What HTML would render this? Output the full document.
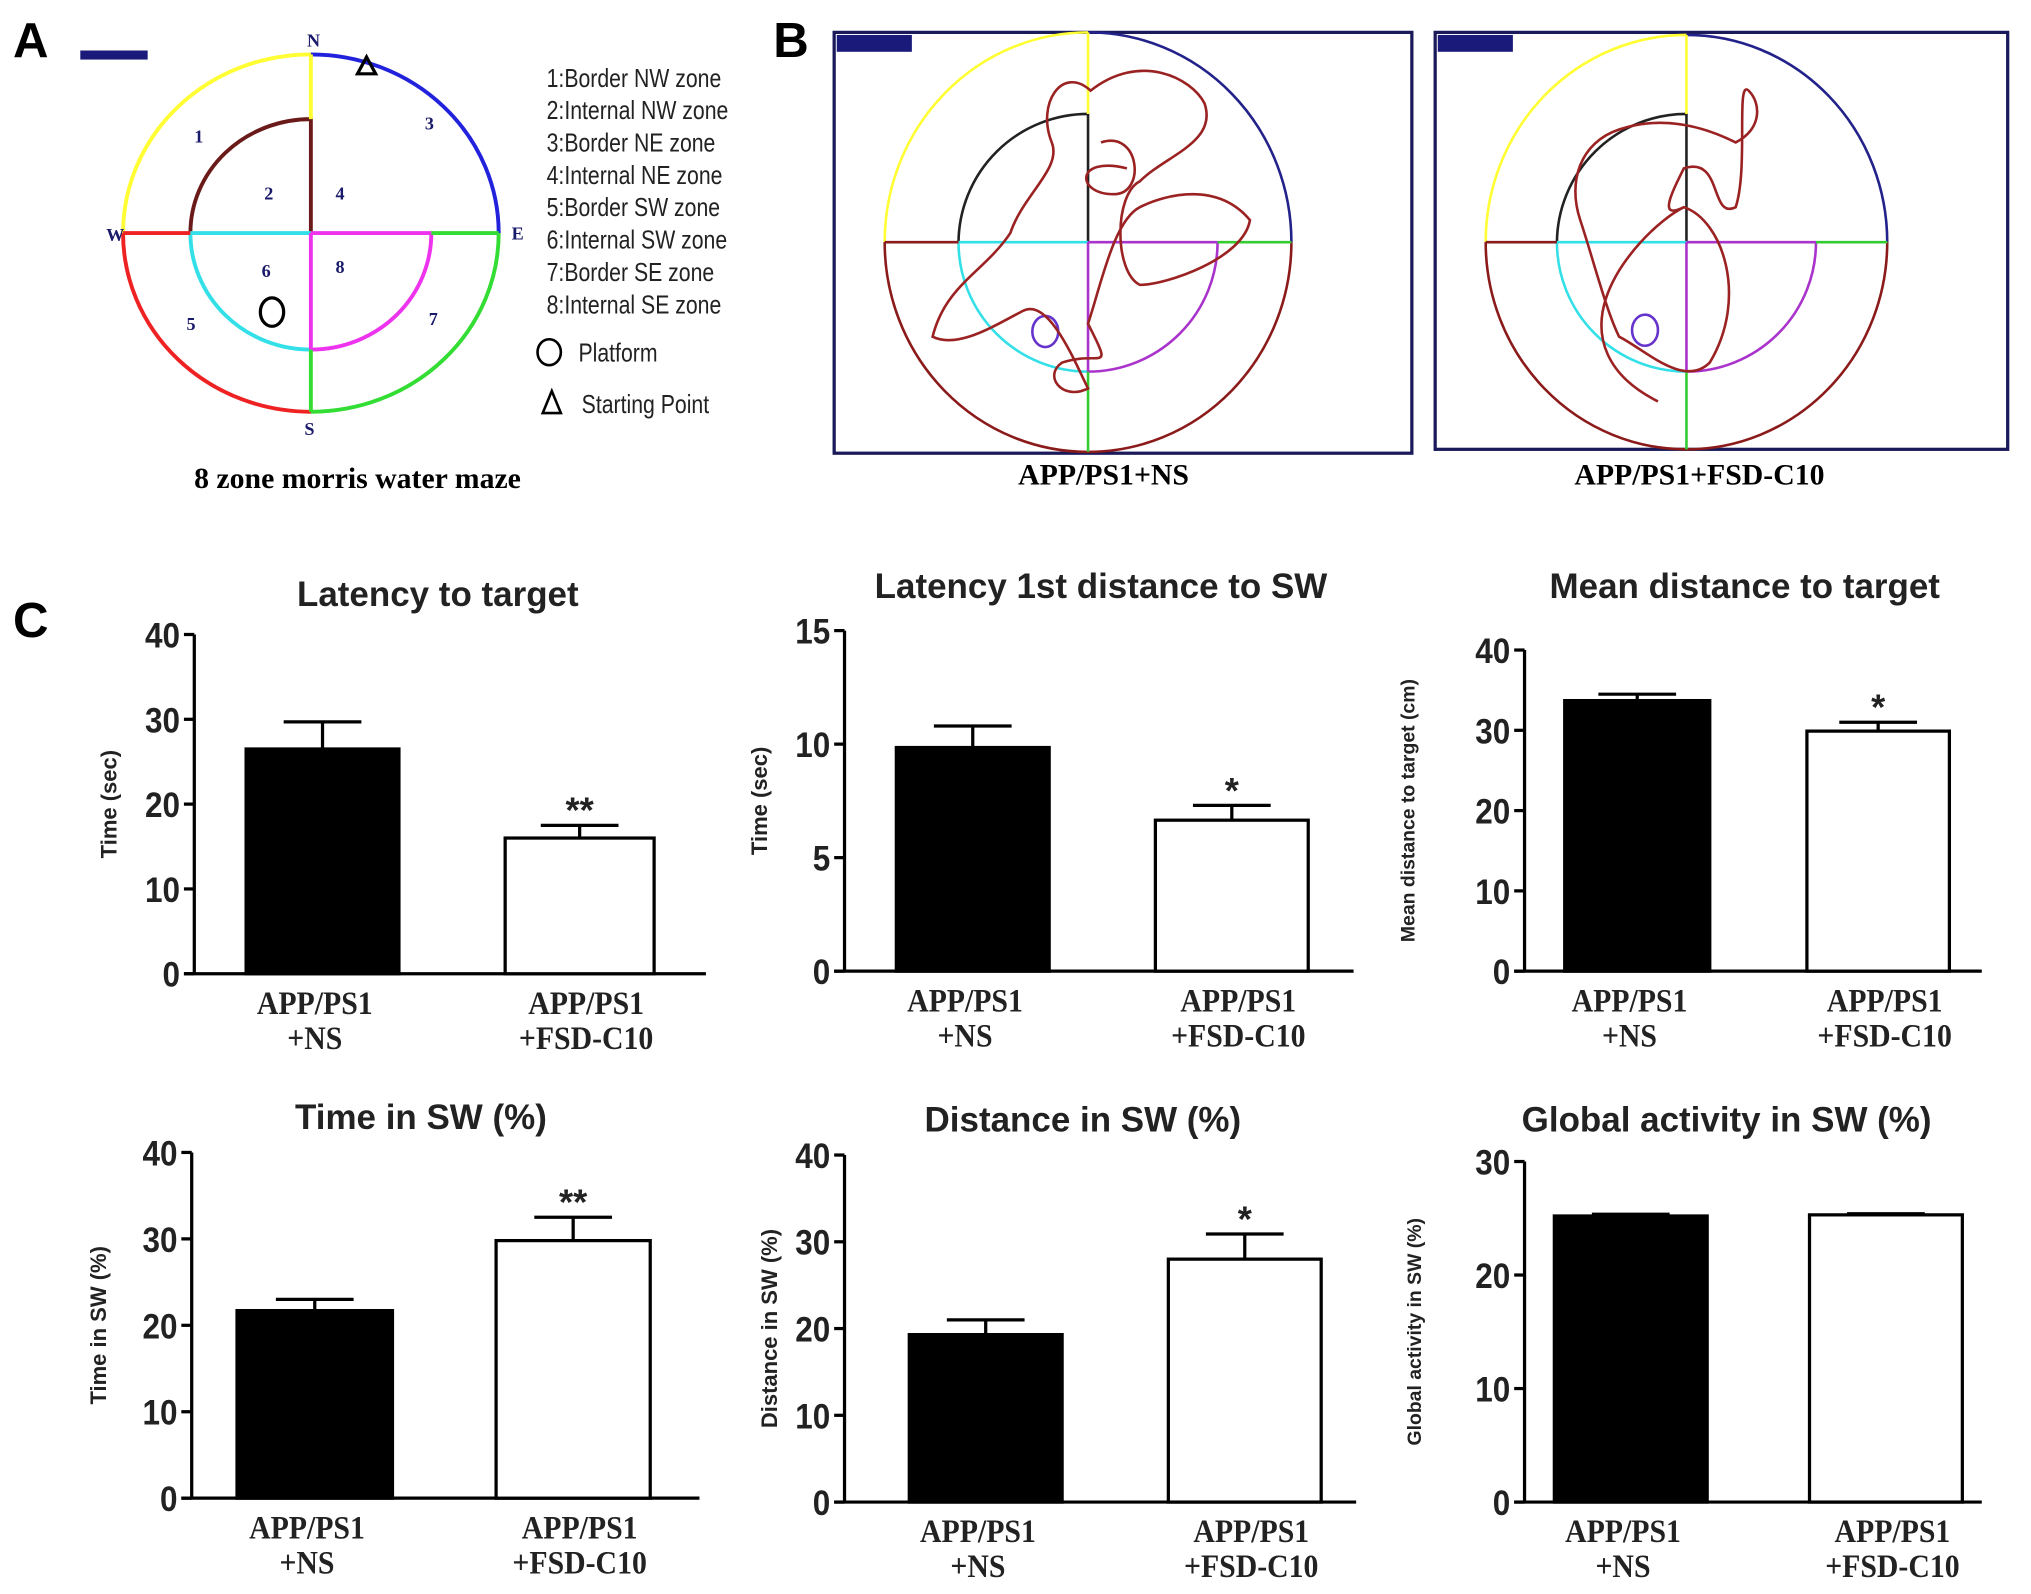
<!DOCTYPE html>
<html><head><meta charset="utf-8"><style>
html,body{margin:0;padding:0;background:#fff;}
svg{display:block;}
.ax{font-family:"Liberation Sans",sans-serif;font-weight:bold;}
.ser{font-family:"Liberation Serif",serif;font-weight:bold;}
</style></head><body>
<svg id="fig" width="2031" height="1594" viewBox="0 0 1568 1231" preserveAspectRatio="none" xmlns="http://www.w3.org/2000/svg">
<rect width="1568" height="1231" fill="#fff"/>
<text x="10" y="44" class="ax" font-size="38">A</text>
<text x="597" y="44" class="ax" font-size="38">B</text>
<text x="10" y="492" class="ax" font-size="38">C</text>
<g fill="none" stroke-width="3">
<rect x="62" y="39" width="52" height="7" fill="#1a1a7a" stroke="none"/>
<path d="M95,180 A145,138 0 0 1 240,42" stroke="#ffff33"/>
<path d="M240,42 A145,138 0 0 1 385,180" stroke="#2222dd"/>
<path d="M95,180 A145,138 0 0 0 240,318" stroke="#ee2222"/>
<path d="M240,318 A145,138 0 0 0 385,180" stroke="#33dd33"/>
<path d="M147,180 A93,88 0 0 1 240,92 L240,180" stroke="#6b1a1a"/>
<path d="M147,180 A93,90 0 0 0 240,270" stroke="#33e0e8"/>
<path d="M240,270 A93,90 0 0 0 333,180" stroke="#ee33ee"/>
<line x1="95" y1="180" x2="147" y2="180" stroke="#ee2222"/>
<line x1="147" y1="180" x2="240" y2="180" stroke="#33e0e8"/>
<line x1="240" y1="180" x2="333" y2="180" stroke="#ee33ee"/>
<line x1="333" y1="180" x2="385" y2="180" stroke="#33dd33"/>
<line x1="240" y1="42" x2="240" y2="92" stroke="#ffff33"/>
<line x1="240" y1="180" x2="240" y2="270" stroke="#ee33ee"/>
<line x1="240" y1="270" x2="240" y2="318" stroke="#33dd33"/>
<ellipse cx="210" cy="241" rx="9" ry="11" stroke="#000" stroke-width="2.5"/>
<path d="M283,44 L290,57 L276,57 Z" stroke="#000" stroke-width="2.5"/>
</g>
<g class="ser" font-size="14" fill="#1a1a6a">
<text x="237" y="36">N</text><text x="235" y="336">S</text><text x="82" y="186">W</text><text x="395" y="185">E</text>
<text x="150" y="110">1</text><text x="204" y="154">2</text><text x="328" y="100">3</text><text x="259" y="154">4</text>
<text x="144" y="255">5</text><text x="202" y="214">6</text><text x="259" y="211">8</text><text x="331" y="251">7</text>
</g>
<g font-family="Liberation Sans,sans-serif" font-size="20" fill="#222" transform="translate(422,0) scale(0.82,1)">
<text x="0" y="67">1:Border NW zone</text><text x="0" y="92">2:Internal NW zone</text><text x="0" y="117">3:Border NE zone</text><text x="0" y="142">4:Internal NE zone</text>
<text x="0" y="167">5:Border SW zone</text><text x="0" y="192">6:Internal SW zone</text><text x="0" y="217">7:Border SE zone</text><text x="0" y="242">8:Internal SE zone</text>
<text x="30" y="279">Platform</text><text x="33" y="319">Starting Point</text>
</g>
<ellipse cx="424" cy="272" rx="9" ry="10" fill="none" stroke="#000" stroke-width="2"/>
<path d="M426,302 L433,319 L419,319 Z" fill="none" stroke="#000" stroke-width="2"/>
<text x="276" y="377" text-anchor="middle" class="ser" font-size="23">8 zone morris water maze</text>
<g fill="none" stroke-width="2">
<rect x="644" y="25" width="446" height="325" stroke="#1a1a5a" stroke-width="2.5"/>
<rect x="646" y="27" width="58" height="13" fill="#1a1a7a" stroke="none"/>
<path d="M683,187 A157,162 0 0 1 840,25" stroke="#ffff33"/>
<path d="M840,25 A157,162 0 0 1 997,187" stroke="#22228a"/>
<path d="M683,187 A157,162 0 0 0 840,349 A157,162 0 0 0 997,187" stroke="#8b1a1a"/>
<path d="M740,187 A100,100 0 0 1 840,88 L840,187" stroke="#222"/>
<path d="M740,187 A100,100 0 0 0 840,287" stroke="#33e0e8"/>
<path d="M840,287 A100,100 0 0 0 940,187" stroke="#aa33cc"/>
<line x1="683" y1="187" x2="740" y2="187" stroke="#8b1a1a"/><line x1="740" y1="187" x2="840" y2="187" stroke="#33e0e8"/>
<line x1="840" y1="187" x2="940" y2="187" stroke="#aa33cc"/><line x1="940" y1="187" x2="997" y2="187" stroke="#33cc33"/>
<line x1="840" y1="25" x2="840" y2="88" stroke="#ffff33"/><line x1="840" y1="187" x2="840" y2="287" stroke="#aa33cc"/><line x1="840" y1="287" x2="840" y2="349" stroke="#33cc33"/>
<ellipse cx="807" cy="256" rx="10" ry="12" stroke="#6633cc"/>
<path d="M842,70 C820,50 800,80 812,110 C820,130 790,150 780,180 C760,210 730,220 720,260 C740,270 770,250 790,240 C810,230 830,280 840,300 C820,310 805,290 820,280 C850,270 860,290 840,250 C850,220 860,170 880,160 C900,150 940,140 965,170 C960,200 900,220 880,220 C860,210 860,150 880,140 C900,120 940,110 930,80 C920,60 880,40 842,70 Z M850,110 C880,100 885,150 860,150 C830,150 830,120 870,130" stroke="#9b2222"/>
</g>
<g fill="none" stroke-width="2">
<rect x="1108" y="25" width="442" height="322" stroke="#1a1a5a" stroke-width="2.5"/>
<rect x="1110" y="27" width="58" height="13" fill="#1a1a7a" stroke="none"/>
<path d="M1147,187 A155,160 0 0 1 1302,27" stroke="#ffff33"/>
<path d="M1302,27 A155,160 0 0 1 1457,187" stroke="#22228a"/>
<path d="M1147,187 A155,160 0 0 0 1302,347 A155,160 0 0 0 1457,187" stroke="#8b1a1a"/>
<path d="M1202,187 A100,100 0 0 1 1302,88 L1302,187" stroke="#222"/>
<path d="M1202,187 A100,100 0 0 0 1302,287" stroke="#33e0e8"/>
<path d="M1302,287 A100,100 0 0 0 1402,187" stroke="#aa33cc"/>
<line x1="1147" y1="187" x2="1202" y2="187" stroke="#8b1a1a"/><line x1="1202" y1="187" x2="1302" y2="187" stroke="#33e0e8"/>
<line x1="1302" y1="187" x2="1402" y2="187" stroke="#aa33cc"/><line x1="1402" y1="187" x2="1457" y2="187" stroke="#33cc33"/>
<line x1="1302" y1="27" x2="1302" y2="88" stroke="#ffff33"/><line x1="1302" y1="187" x2="1302" y2="287" stroke="#aa33cc"/><line x1="1302" y1="287" x2="1302" y2="347" stroke="#33cc33"/>
<ellipse cx="1270" cy="255" rx="10" ry="12" stroke="#6633cc"/>
<path d="M1280,310 C1240,290 1230,260 1240,230 C1250,200 1280,170 1300,160 C1330,170 1350,230 1320,280 C1300,300 1270,270 1250,260 C1240,240 1230,200 1220,170 C1210,140 1220,110 1250,100 C1280,90 1310,95 1340,110 C1360,100 1360,80 1350,70 C1340,60 1350,130 1340,160 C1320,170 1330,120 1300,130 C1290,150 1280,170 1300,160" stroke="#9b2222"/>
</g>
<text x="852" y="374" text-anchor="middle" class="ser" font-size="23">APP/PS1+NS</text>
<text x="1312" y="374" text-anchor="middle" class="ser" font-size="23">APP/PS1+FSD-C10</text>
<g id="charts"></g>
</svg>
<script>
const chartTitles=["Latency to target","Latency 1st distance to SW","Mean distance to target","Time in SW (%)","Distance in SW (%)","Global activity in SW (%)"];
const yTitles=["Time (sec)","Time (sec)","Mean distance to target (cm)","Time in SW (%)","Distance in SW (%)","Global activity in SW (%)"];
const yMaxes=[40,15,40,40,40,30];
const yTicks=[[0,10,20,30,40],[0,5,10,15],[0,10,20,30,40],[0,10,20,30,40],[0,10,20,30,40],[0,10,20,30]];
const groupNames=["APP/PS1|+NS","APP/PS1|+FSD-C10"];
const nsMeans=[26.5,9.85,33.7,21.7,19.3,25.2];
const nsErr=[3.2,0.95,0.8,1.3,1.7,0.15];
const fsdMeans=[16,6.65,29.9,29.8,28,25.3];
const fsdErr=[1.5,0.65,1.1,2.7,2.9,0.1];
const sigMarks=["**","*","*","**","*",""];
const L=[{ax:150,top:490,bot:752,right:545,b:[[190,308],[390,505]],tx:338,ty:468,yt:90,yf:17},
{ax:652,top:487,bot:750,right:1045,b:[[692,810],[892,1010]],tx:850,ty:462,yt:592,yf:17},
{ax:1177,top:502,bot:750,right:1530,b:[[1208,1320],[1395,1505]],tx:1347,ty:462,yt:1092,yf:15},
{ax:148,top:890,bot:1157,right:540,b:[[183,303],[383,502]],tx:325,ty:872,yt:82,yf:17},
{ax:652,top:892,bot:1160,right:1047,b:[[702,820],[902,1020]],tx:836,ty:874,yt:600,yf:17},
{ax:1177,top:897,bot:1160,right:1530,b:[[1200,1318],[1397,1515]],tx:1333,ty:874,yt:1097,yf:15}];
const NS="http://www.w3.org/2000/svg";
const root=document.getElementById('charts');
function mk(tag,attrs,parent,txt){const e=document.createElementNS(NS,tag);for(const k in attrs)e.setAttribute(k,attrs[k]);if(txt!==undefined)e.textContent=txt;parent.appendChild(e);return e;}
chartTitles.forEach((t,i)=>{
  const l=L[i];
  const g=mk('g',{},root);
  
  
  const y=v=>l.bot-(v/yMaxes[i])*(l.bot-l.top);
  const ti=mk('text',{x:l.tx,y:l.ty,'text-anchor':'middle','class':'ax','font-size':27,fill:'#222'},g,t);
  
  
  const yt=mk('text',{x:0,y:0,'text-anchor':'middle','class':'ax','font-size':l.yf,fill:'#222',transform:`translate(${l.yt},${(l.top+l.bot)/2}) rotate(-90)`},g,yTitles[i]);
  
  
  const ya=mk('line',{x1:l.ax,y1:l.top,x2:l.ax,y2:l.bot,stroke:'#000','stroke-width':2.5},g);
  
  
  const xa=mk('line',{x1:l.ax-8,y1:l.bot,x2:l.right,y2:l.bot,stroke:'#000','stroke-width':2.5},g);
  
  
  yTicks[i].forEach(v=>{
    mk('line',{x1:l.ax-8,y1:y(v),x2:l.ax,y2:y(v),stroke:'#000','stroke-width':2.5},g);
    const tl=mk('text',{x:0,y:0,'text-anchor':'end','class':'ax','font-size':27,fill:'#222',transform:`translate(${l.ax-11},${y(v)+10}) scale(0.9,1)`},g,String(v));
    
    
  });
  [[nsMeans[i],nsErr[i],'#000'],[fsdMeans[i],fsdErr[i],'#fff']].forEach((d,j)=>{
    const [x0,x1]=l.b[j];const cx=(x0+x1)/2;
    const e=mk('line',{x1:cx,y1:y(d[0]),x2:cx,y2:y(d[0]+d[1]),stroke:'#000','stroke-width':2.5},g);
    
    
    mk('line',{x1:cx-30,y1:y(d[0]+d[1]),x2:cx+30,y2:y(d[0]+d[1]),stroke:'#000','stroke-width':2.5},g);
    const r=mk('rect',{x:x0,y:y(d[0]),width:x1-x0,height:l.bot-y(d[0]),fill:d[2],stroke:'#000','stroke-width':2.5},g);
    
    
    if(j===1&&sigMarks[i]){
      const s=mk('text',{x:cx,y:y(d[0]+d[1])-2,'text-anchor':'middle','class':'ax','font-size':28,fill:'#222'},g,sigMarks[i]);
      
      
    }
    const lines=groupNames[j].split('|');
    lines.forEach((ln,k)=>{
      const lt=mk('text',{x:0,y:0,'text-anchor':'middle','class':'ser','font-size':25,fill:'#222',transform:`translate(${cx+(j?5:-6)},${l.bot+31+k*27}) scale(0.92,1)`},g,ln);
      
      
    });
  });
});
</script>
</body></html>
